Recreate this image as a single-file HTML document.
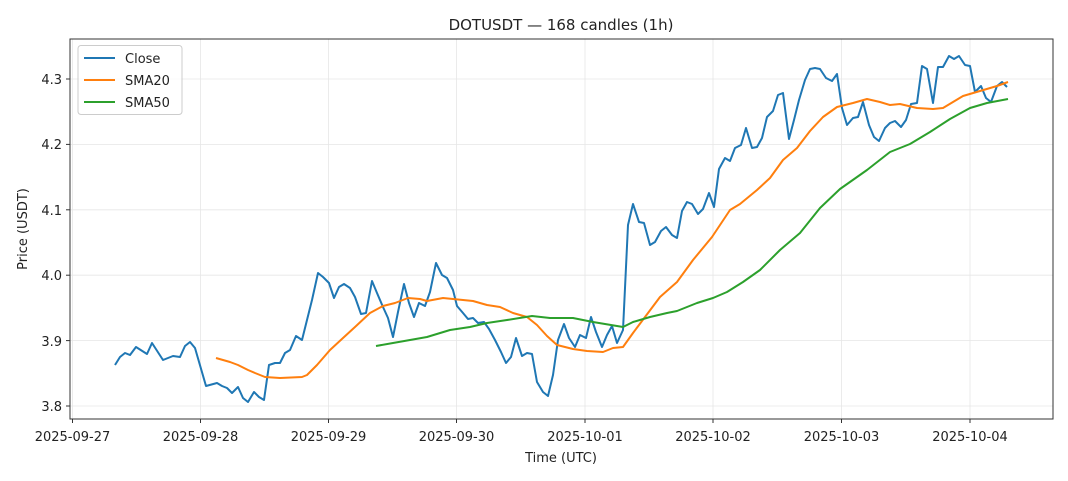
<!DOCTYPE html>
<html><head><meta charset="utf-8"><style>body{margin:0;background:#fff}svg{display:block;font-family:"DejaVu Sans","Liberation Sans",sans-serif}</style></head><body>
<svg width="1068" height="481" viewBox="0 0 1068 481">
<rect width="1068" height="481" fill="#fff"/>
<g stroke="#e6e6e6" stroke-width="0.8">
<line x1="72.5" y1="39" x2="72.5" y2="419"/><line x1="200.5" y1="39" x2="200.5" y2="419"/><line x1="328.5" y1="39" x2="328.5" y2="419"/><line x1="456.5" y1="39" x2="456.5" y2="419"/><line x1="585" y1="39" x2="585" y2="419"/><line x1="713" y1="39" x2="713" y2="419"/><line x1="841.5" y1="39" x2="841.5" y2="419"/><line x1="970" y1="39" x2="970" y2="419"/>
<line x1="70" y1="79" x2="1053" y2="79"/><line x1="70" y1="144.4" x2="1053" y2="144.4"/><line x1="70" y1="209.8" x2="1053" y2="209.8"/><line x1="70" y1="275.2" x2="1053" y2="275.2"/><line x1="70" y1="340.6" x2="1053" y2="340.6"/><line x1="70" y1="406" x2="1053" y2="406"/>
</g>
<g fill="none" stroke-width="2" stroke-linejoin="round">
<polyline stroke="#1f77b4" points="115,365 120,357 125,353 130,355 136,347 147,354 152,343 163,360 173,356 180,357 185,346 190,342 195,348 206,386 217,383 222,386 227,388 232,393 238,387 243,398 248,402 254,392 259,397 264,400 269,365 275,363 280,363 285,353 290,350 296,336 302,340 307,320 312,300 318,273 323,277 329,283 334,298 339,287 344,284 350,288 355,297 361,314 366,313 372,281 377,293 383,307 388,318 393,337 398,312 404,284 409,303 414,317 419,303 425,306 430,292 436,263 442,275 447,278 453,290 457,306 463,313 468,319 473,318 478,323 484,322 489,329 495,340 501,352 506,363 511,357 516,338 522,356 527,353 532,354 537,382 543,392 548,396 553,375 558,340 564,324 569,338 575,347 580,335 586,338 591,317 596,332 602,347 607,335 612,326 617,343 623,330 628,225 633,204 639,222 644,223 650,245 655,242 661,231 666,227 672,235 677,238 682,211 687,202 692,204 698,214 703,209 709,193 714,207 719,169 725,158 730,161 735,148 741,145 746,128 752,148 757,147 762,138 767,117 773,111 778,95 783,93 789,139 794,120 799,100 805,80 810,69 815,68 820,69 826,78 832,81 837,74 842,108 847,125 853,118 858,117 863,102 869,125 874,137 879,141 885,128 890,123 895,121 901,127 906,120 911,104 917,103 922,66 927,69 933,103 938,67 943,67 949,56 954,59 959,56 965,65 970,66 975,92 981,86 986,98 991,102 997,86 1002,82 1007,87"/>
<polyline stroke="#ff7f0e" points="216,358 230,362 238,365 248,370 255,373 265,377 280,378 302,377 307,375 317,365 330,350 343,338 355,327 370,313 383,306 395,303 408,298 420,299 427,301 443,298 453,299 473,301 487,305 500,307 513,313 527,317 537,325 547,336 557,345 573,349 587,351 603,352 613,348 623,347 633,333 645,317 660,297 677,282 693,260 712,237 720,225 730,210 740,204 757,190 770,178 783,160 797,148 810,131 823,117 837,107 853,103 867,99 880,102 890,105 900,104 917,108 933,109 943,108 963,96 980,91 997,86 1008,82"/>
<polyline stroke="#2ca02c" points="376,346 393,343 427,337 450,330 470,327 487,323 507,320 532,316 550,318 573,318 593,322 623,327 633,322 650,317 667,313 677,311 697,303 713,298 727,292 743,282 760,270 780,250 800,233 820,208 840,189 867,170 890,152 910,144 930,132 950,119 970,108 987,103 1008,99"/>
</g>
<rect x="70" y="39" width="983" height="380" fill="none" stroke="#333" stroke-width="1"/>
<g stroke="#333" stroke-width="1">
<line x1="72.5" y1="419" x2="72.5" y2="423"/><line x1="200.5" y1="419" x2="200.5" y2="423"/><line x1="328.5" y1="419" x2="328.5" y2="423"/><line x1="456.5" y1="419" x2="456.5" y2="423"/><line x1="585" y1="419" x2="585" y2="423"/><line x1="713" y1="419" x2="713" y2="423"/><line x1="841.5" y1="419" x2="841.5" y2="423"/><line x1="970" y1="419" x2="970" y2="423"/>
<line x1="66" y1="79" x2="70" y2="79"/><line x1="66" y1="144.4" x2="70" y2="144.4"/><line x1="66" y1="209.8" x2="70" y2="209.8"/><line x1="66" y1="275.2" x2="70" y2="275.2"/><line x1="66" y1="340.6" x2="70" y2="340.6"/><line x1="66" y1="406" x2="70" y2="406"/>
</g>
<g font-size="13" fill="#222" text-anchor="middle">
<text x="72.5" y="441">2025-09-27</text><text x="200.5" y="441">2025-09-28</text><text x="328.5" y="441">2025-09-29</text><text x="456.5" y="441">2025-09-30</text><text x="585" y="441">2025-10-01</text><text x="713" y="441">2025-10-02</text><text x="841.5" y="441">2025-10-03</text><text x="970" y="441">2025-10-04</text>
</g>
<g font-size="13" fill="#222" text-anchor="end">
<text x="62" y="84">4.3</text><text x="62" y="149">4.2</text><text x="62" y="215">4.1</text><text x="62" y="280">4.0</text><text x="62" y="346">3.9</text><text x="62" y="411">3.8</text>
</g>
<text x="561" y="462" font-size="13" fill="#222" text-anchor="middle">Time (UTC)</text>
<text transform="translate(27,229) rotate(-90)" font-size="13" fill="#222" text-anchor="middle">Price (USDT)</text>
<text x="561" y="30" font-size="15" fill="#222" text-anchor="middle">DOTUSDT — 168 candles (1h)</text>
<rect x="78" y="45.5" width="104" height="69" rx="3" fill="#fff" fill-opacity="0.8" stroke="#ccc"/>
<g stroke-width="2"><line x1="84" y1="58" x2="115" y2="58" stroke="#1f77b4"/><line x1="84" y1="80" x2="115" y2="80" stroke="#ff7f0e"/><line x1="84" y1="102" x2="115" y2="102" stroke="#2ca02c"/></g>
<g font-size="13" fill="#222"><text x="125" y="63">Close</text><text x="125" y="85">SMA20</text><text x="125" y="107">SMA50</text></g>
</svg>
</body></html>
